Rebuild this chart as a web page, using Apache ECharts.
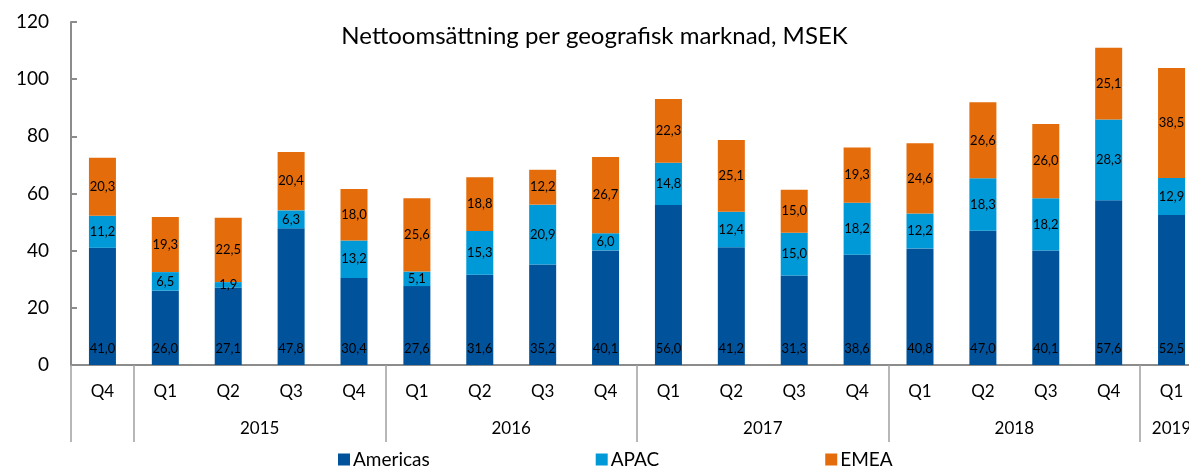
<!DOCTYPE html>
<html>
<head>
<meta charset="utf-8">
<script src="https://cdn.jsdelivr.net/npm/echarts@6/dist/echarts.min.js"></script>
<style>
  html, body { margin: 0; padding: 0; background: #fff; }
  #chart { width: 1189px; height: 469px; }
</style>
</head>
<body>
<div id="chart"></div>
<script>
// kvartal och år per stapel
const quarters = ['Q4', 'Q1', 'Q2', 'Q3', 'Q4', 'Q1', 'Q2', 'Q3', 'Q4', 'Q1', 'Q2', 'Q3', 'Q4', 'Q1', 'Q2', 'Q3', 'Q4', 'Q1']
const years = ['', '2015', '2015', '2015', '2015', '2016', '2016', '2016', '2016', '2017', '2017', '2017', '2017', '2018', '2018', '2018', '2018', '2019']

const americas = [41.0, 26.0, 27.1, 47.8, 30.4, 27.6, 31.6, 35.2, 40.1, 56.0, 41.2, 31.3, 38.6, 40.8, 47.0, 40.1, 57.6, 52.5]
const apac = [11.2, 6.5, 1.9, 6.3, 13.2, 5.1, 15.3, 20.9, 6.0, 14.8, 12.4, 15.0, 18.2, 12.2, 18.3, 18.2, 28.3, 12.9]
const emea = [20.3, 19.3, 22.5, 20.4, 18.0, 25.6, 18.8, 12.2, 26.7, 22.3, 25.1, 15.0, 19.3, 24.6, 26.6, 26.0, 25.1, 38.5]

const yTicks = [0, 20, 40, 60, 80, 100, 120]

// årsgrupper: gränser och mittpunkter
const yearBounds = [0]
const yearCenters = {}
let start = 0
for (let i = 1; i <= years.length; i++) {
  if (i === years.length || years[i] !== years[start]) {
    yearBounds.push(i)
    if (years[start]) yearCenters[(start + i) / 2] = years[start]
    start = i
  }
}

const font = 'Lato'
const fmt = p => p.value.toFixed(1).replace('.', ',')

const chart = echarts.init(document.getElementById('chart'))

function barSeries(name, data, color, pos) {
  return {
    name: name,
    type: 'bar',
    stack: 'total',
    data: data,
    barWidth: 27,
    itemStyle: { color: color },
    label: {
      show: true,
      position: pos,
      distance: 10,
      formatter: fmt,
      color: '#000',
      fontSize: 13,
      fontFamily: font
    }
  }
}

chart.setOption({
  backgroundColor: '#fff',
  animation: false,
  title: {
    text: 'Nettoomsättning per geografisk marknad, MSEK',
    left: 'center',
    top: 19,
    textStyle: { fontSize: 24, fontWeight: 'normal', color: '#000', fontFamily: font }
  },
  legend: {
    left: 333,
    top: 445,
    itemWidth: 12,
    itemHeight: 12,
    itemGap: 166,
    icon: 'rect',
    textStyle: { fontSize: 19, color: '#000', fontFamily: font, padding: [0, 0, 0, -2] },
    data: ['Americas', 'APAC', 'EMEA']
  },
  grid: {
    left: 71,
    right: -14,
    top: 22,
    bottom: 104,
    containLabel: false,
    outerBoundsMode: 'none'
  },
  xAxis: [{
    type: 'category',
    data: quarters,
    axisLine: { lineStyle: { color: '#8c8c8c', width: 2 } },
    axisTick: { length: 38, lineStyle: { color: '#a0a0a0', width: 1.5 } },
    axisLabel: { interval: 0, margin: 18, fontSize: 17, color: '#000', fontFamily: font }
  }, {
    type: 'value',
    position: 'bottom',
    min: 0,
    max: quarters.length,
    axisLine: { show: false },
    splitLine: { show: false },
    axisTick: {
      show: true,
      length: 77,
      customValues: yearBounds,
      lineStyle: { color: '#a0a0a0', width: 1.5 }
    },
    axisLabel: {
      customValues: Object.keys(yearCenters).map(Number),
      formatter: v => yearCenters[v] || '',
      margin: 55,
      fontSize: 17,
      color: '#000',
      fontFamily: font
    }
  }],
  yAxis: {
    type: 'value',
    min: yTicks[0],
    max: yTicks[yTicks.length - 1],
    interval: 20,
    axisLine: { show: true, lineStyle: { color: '#8c8c8c', width: 2 } },
    axisTick: { show: true, inside: true, length: 6, lineStyle: { color: '#8c8c8c', width: 2 } },
    splitLine: { show: false },
    axisLabel: { margin: 22, fontSize: 19, color: '#000', fontFamily: font }
  },
  series: [
    barSeries('Americas', americas, '#00539b', 'insideBottom'),
    barSeries('APAC', apac, '#0099d7', 'inside'),
    barSeries('EMEA', emea, '#e46c0a', 'inside')
  ]
})
</script>
</body>
</html>
